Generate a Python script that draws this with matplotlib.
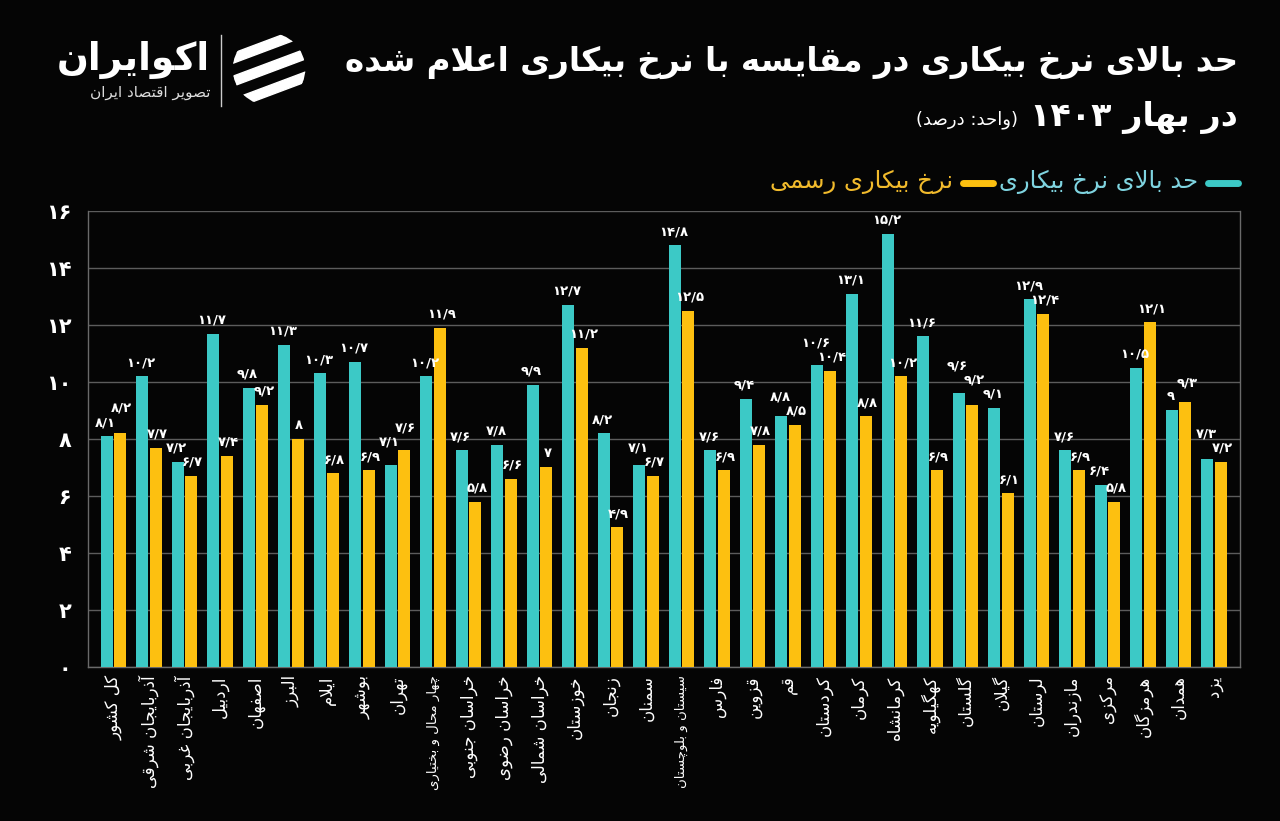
import re
import numpy as np
import matplotlib
matplotlib.use('Agg')
import matplotlib.pyplot as plt
from matplotlib.lines import Line2D
from matplotlib.patches import Circle, Polygon

provinces = ['کل کشور', 'آذربایجان شرقی', 'آذربایجان غربی', 'اردبیل', 'اصفهان',
             'البرز', 'ایلام', 'بوشهر', 'تهران', 'چهار محال و بختیاری',
             'خراسان جنوبی', 'خراسان رضوی', 'خراسان شمالی', 'خوزستان', 'زنجان',
             'سمنان', 'سیستان و بلوچستان', 'فارس', 'قزوین', 'قم', 'کردستان',
             'کرمان', 'کرمانشاه', 'کهگیلویه', 'گلستان', 'گیلان', 'لرستان',
             'مازندران', 'مرکزی', 'هرمزگان', 'همدان', 'یزد']
upper_rate = [8.1, 10.2, 7.2, 11.7, 9.8, 11.3, 10.3, 10.7, 7.1, 10.2,
              7.6, 7.8, 9.9, 12.7, 8.2, 7.1, 14.8, 7.6, 9.4, 8.8, 10.6,
              13.1, 15.2, 11.6, 9.6, 9.1, 12.9, 7.6, 6.4, 10.5, 9.0, 7.3]
official_rate = [8.2, 7.7, 6.7, 7.4, 9.2, 8.0, 6.8, 6.9, 7.6, 11.9,
                 5.8, 6.6, 7.0, 11.2, 4.9, 6.7, 12.5, 6.9, 7.8, 8.5, 10.4,
                 8.8, 10.2, 6.9, 9.2, 6.1, 12.4, 6.9, 5.8, 12.1, 9.3, 7.2]
y_ticks = [0, 2, 4, 6, 8, 10, 12, 14, 16]

title_1 = 'حد بالای نرخ بیکاری در مقایسه با نرخ بیکاری اعلام شده'
title_2 = 'در بهار 1403'
unit_text = '(واحد: درصد)'
legend_upper = 'حد بالای نرخ بیکاری'
legend_official = 'نرخ بیکاری رسمی'
brand = 'اکوایران'
brand_sub = 'تصویر اقتصاد ایران'

TEAL = '#3cc9c6'
YELLOW = '#fdc010'
BG = '#050505'

# contextual forms: (isolated, final, initial, medial); two entries = right-joining only
FORMS = {
    'ا': (0xFE8D, 0xFE8E), 'آ': (0xFE81, 0xFE82), 'د': (0xFEA9, 0xFEAA),
    'ذ': (0xFEAB, 0xFEAC), 'ر': (0xFEAD, 0xFEAE), 'ز': (0xFEAF, 0xFEB0),
    'ژ': (0xFB8A, 0xFB8B), 'و': (0xFEED, 0xFEEE),
    'ب': (0xFE8F, 0xFE90, 0xFE91, 0xFE92), 'پ': (0xFB56, 0xFB57, 0xFB58, 0xFB59),
    'ت': (0xFE95, 0xFE96, 0xFE97, 0xFE98), 'ث': (0xFE99, 0xFE9A, 0xFE9B, 0xFE9C),
    'ج': (0xFE9D, 0xFE9E, 0xFE9F, 0xFEA0), 'چ': (0xFB7A, 0xFB7B, 0xFB7C, 0xFB7D),
    'ح': (0xFEA1, 0xFEA2, 0xFEA3, 0xFEA4), 'خ': (0xFEA5, 0xFEA6, 0xFEA7, 0xFEA8),
    'س': (0xFEB1, 0xFEB2, 0xFEB3, 0xFEB4), 'ش': (0xFEB5, 0xFEB6, 0xFEB7, 0xFEB8),
    'ص': (0xFEB9, 0xFEBA, 0xFEBB, 0xFEBC), 'ض': (0xFEBD, 0xFEBE, 0xFEBF, 0xFEC0),
    'ط': (0xFEC1, 0xFEC2, 0xFEC3, 0xFEC4), 'ظ': (0xFEC5, 0xFEC6, 0xFEC7, 0xFEC8),
    'ع': (0xFEC9, 0xFECA, 0xFECB, 0xFECC), 'غ': (0xFECD, 0xFECE, 0xFECF, 0xFED0),
    'ف': (0xFED1, 0xFED2, 0xFED3, 0xFED4), 'ق': (0xFED5, 0xFED6, 0xFED7, 0xFED8),
    'ک': (0xFB8E, 0xFB8F, 0xFB90, 0xFB91), 'گ': (0xFB92, 0xFB93, 0xFB94, 0xFB95),
    'ل': (0xFEDD, 0xFEDE, 0xFEDF, 0xFEE0), 'م': (0xFEE1, 0xFEE2, 0xFEE3, 0xFEE4),
    'ن': (0xFEE5, 0xFEE6, 0xFEE7, 0xFEE8), 'ه': (0xFEE9, 0xFEEA, 0xFEEB, 0xFEEC),
    'ی': (0xFBFC, 0xFBFD, 0xFBFE, 0xFBFF),
}
LAM_ALEF = {'ا': (0xFEFB, 0xFEFC), 'آ': (0xFEF5, 0xFEF6)}
FA_DIGITS = str.maketrans('0123456789', '۰۱۲۳۴۵۶۷۸۹')


def shape(text):
    out = []
    i = 0
    n = len(text)
    while i < n:
        c = text[i]
        if c not in FORMS:
            out.append(c)
            i += 1
            continue
        prev = text[i - 1] if i > 0 else ''
        prev_joins = prev in FORMS and len(FORMS[prev]) == 4
        if c == 'ل' and i + 1 < n and text[i + 1] in LAM_ALEF:
            lig = LAM_ALEF[text[i + 1]]
            out.append(chr(lig[1] if prev_joins else lig[0]))
            i += 2
            continue
        nxt = text[i + 1] if i + 1 < n else ''
        next_joins = nxt in FORMS
        f = FORMS[c]
        if len(f) == 2:
            out.append(chr(f[1] if prev_joins else f[0]))
        else:
            if prev_joins and next_joins:
                out.append(chr(f[3]))
            elif prev_joins:
                out.append(chr(f[1]))
            elif next_joins:
                out.append(chr(f[2]))
            else:
                out.append(chr(f[0]))
        i += 1
    return ''.join(out)


def fa(text):
    # shape, then lay out right-to-left, keeping number runs left-to-right
    vis = shape(text.translate(FA_DIGITS))[::-1]
    vis = re.sub(r'[۰-۹/]+', lambda m: m.group(0)[::-1], vis)
    return vis.translate(str.maketrans('()', ')('))


def fa_num(v):
    s = ('%d' % v) if float(v).is_integer() else ('%.1f' % v).replace('.', '/')
    return s.translate(FA_DIGITS)


W, H = 1280, 821
fig = plt.figure(figsize=(W / 100, H / 100), dpi=100, facecolor=BG)

def fx(px):
    return px / W

def fy(py):
    return 1 - py / H

ax = fig.add_axes([fx(88), fy(667), fx(1240 - 88), (667 - 211) / H])
ax.set_facecolor(BG)

x = np.arange(len(provinces))
bw = 0.33
off = 0.19
ax.bar(x - off, upper_rate, bw, color=TEAL, zorder=3)
ax.bar(x + off, official_rate, bw, color=YELLOW, zorder=3)

# value labels; a label that would sit on a neighbour is lifted above it
labels = []
for xi, a, b in zip(x, upper_rate, official_rate):
    labels.append([xi - off - 0.04, a + 0.25, a])
    labels.append([xi + off + 0.04, b + 0.25, b])
gap = 0.5
for _ in range(10):
    moved = False
    for i in range(len(labels)):
        for j in range(i + 1, len(labels)):
            p, q = labels[i], labels[j]
            if abs(q[0] - p[0]) < 0.8 and abs(q[1] - p[1]) < gap - 1e-9:
                if q[1] >= p[1]:
                    q[1] = p[1] + gap
                else:
                    p[1] = q[1] + gap
                moved = True
    if not moved:
        break
for lx, ly, v in labels:
    ax.text(lx, ly, fa_num(v), ha='center', va='bottom', color='white',
            fontsize=9.5, fontweight='bold', zorder=4)

ax.set_xlim(-0.72, len(provinces) - 0.27)
ax.set_ylim(0, 16)
ax.set_yticks(y_ticks)
ax.set_yticklabels([fa_num(t) for t in y_ticks], color='white',
                   fontsize=15, fontweight='bold')
ax.tick_params(axis='y', length=0, pad=12)
ax.set_xticks(x)
ax.set_xticklabels([fa(p) for p in provinces], rotation=90, color='white',
                   fontsize=12, ha='center', va='top')
for lab, name in zip(ax.get_xticklabels(), provinces):
    if len(name) > 15:
        lab.set_fontsize(9.5)
ax.tick_params(axis='x', length=0, pad=6)
ax.yaxis.grid(True, color='#5c5c5c', linewidth=1)
ax.set_axisbelow(True)
for side in ['left', 'right', 'bottom']:
    ax.spines[side].set_color('#6a6a6a')
    ax.spines[side].set_linewidth(1)
ax.spines['top'].set_visible(False)

# title
fig.text(fx(1238), fy(62), fa(title_1), ha='right', va='center',
         color='white', fontsize=23.5, fontweight='bold')
fig.text(fx(1238), fy(117), fa(title_2), ha='right', va='center',
         color='white', fontsize=24, fontweight='bold')
fig.text(fx(1018), fy(120), fa(unit_text), ha='right', va='center',
         color='white', fontsize=13)

# legend, laid out right to left
fig.canvas.draw()
renderer = fig.canvas.get_renderer()
pos = 1238
legend_y = 183
for label, col, tcol in [(legend_upper, TEAL, '#7fd4e0'),
                         (legend_official, YELLOW, '#f2bb2c')]:
    fig.add_artist(Line2D([fx(pos - 30), fx(pos)], [fy(legend_y), fy(legend_y)],
                          color=col, linewidth=5, solid_capstyle='round'))
    t = fig.text(fx(pos - 40), fy(legend_y - 1), fa(label), ha='right',
                 va='center', color=tcol, fontsize=17.5)
    bb = t.get_window_extent(renderer)
    pos = bb.x0 - 6

# logo
fig.text(fx(210), fy(60), fa(brand), ha='right', va='center', color='white',
         fontsize=27, fontweight='bold')
fig.text(fx(210), fy(92), fa(brand_sub), ha='right', va='center',
         color='#dddddd', fontsize=11)
fig.add_artist(Line2D([fx(221), fx(221)], [fy(35), fy(106)], color='#cccccc',
                      linewidth=1))
icon = fig.add_axes([fx(232), fy(106), fx(74), 74 / H])
icon.set_xlim(-1, 1)
icon.set_ylim(-1, 1)
icon.set_aspect('equal')
icon.axis('off')
clip = Circle((0, 0), 0.98, transform=icon.transData)
for k in [-0.62, 0.0, 0.62]:
    band = Polygon([(-1.2, k - 0.55), (1.2, k + 0.35), (1.2, k + 0.62),
                    (-1.2, k - 0.28)], closed=True, color='white')
    icon.add_patch(band)
    band.set_clip_path(clip)

fig.savefig('out.png', dpi=100, facecolor=BG)
